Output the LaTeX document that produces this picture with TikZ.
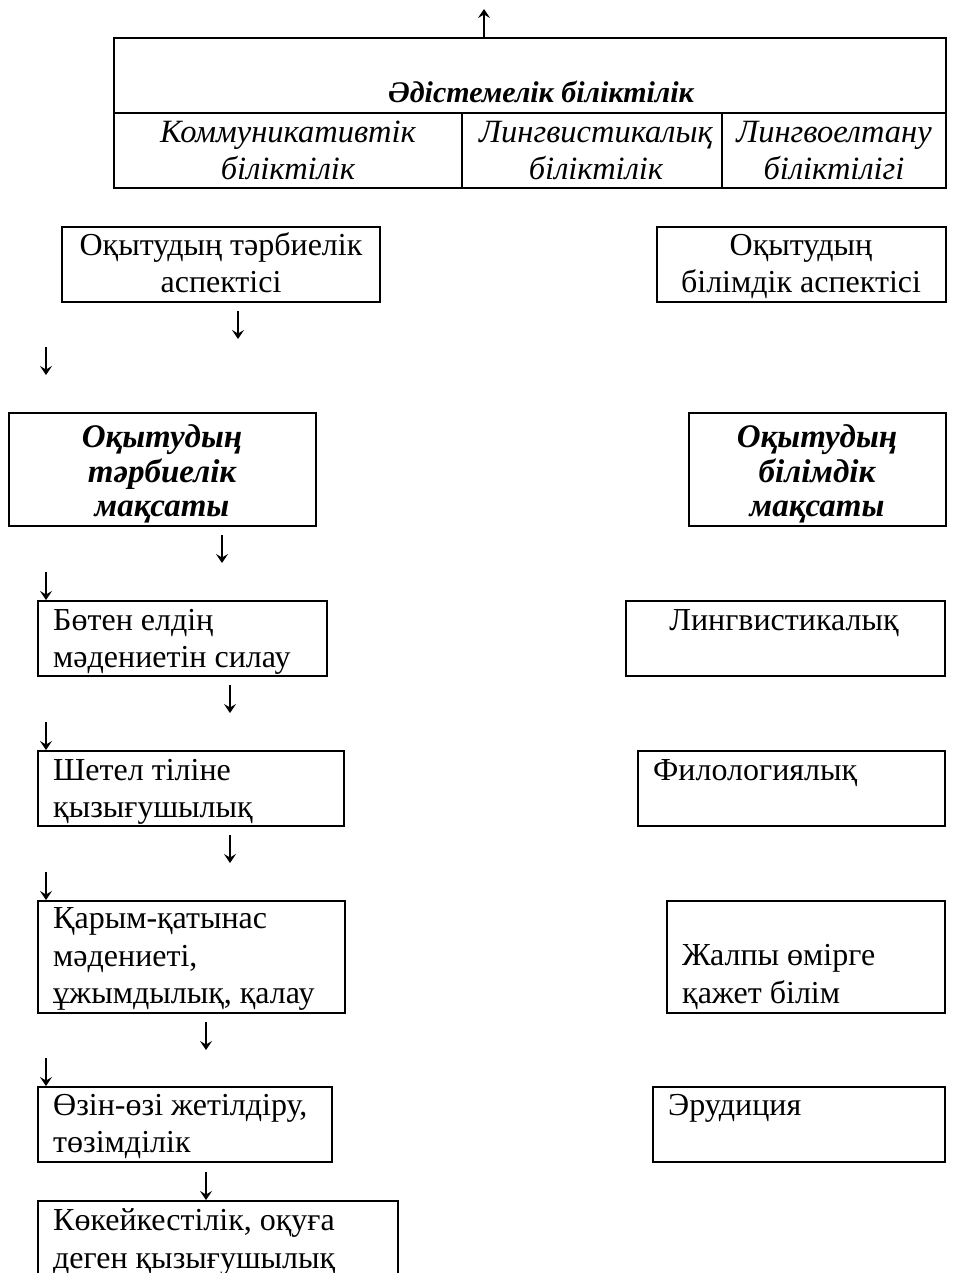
\documentclass[tikz,border=0pt]{standalone}
\usepackage{fontspec}
\setmainfont{Liberation Serif}
\usetikzlibrary{arrows.meta}
\begin{document}
\begin{tikzpicture}[x=1pt,y=-1pt,
  box/.style={draw=black,line width=1.6pt},
  txt/.style={inner sep=0pt,font=\fontsize{32}{37.5}\selectfont},
  ctxt/.style={txt,align=center},
  ltxt/.style={txt,align=left},
  ital/.style={txt,font=\fontsize{32.5}{37.5}\selectfont\itshape},
  bital/.style={txt,font=\fontsize{33}{37.5}\selectfont\bfseries\itshape},
  arr/.style={line width=1.3pt,-{Stealth[length=9pt,width=12pt,inset=3.5pt]}}]
\useasboundingbox (0,0) rectangle (955,1273);
% top block
\draw[line width=1.4pt] (114,38) rectangle (946,188);
\draw[line width=1.4pt] (114,113) -- (946,113);
\draw[line width=1.4pt] (462,113) -- (462,188);
\draw[line width=1.4pt] (722,113) -- (722,188);
\node[txt,anchor=base,font=\fontsize{30}{37.5}\selectfont\bfseries\itshape] (title) at (541,103) {Әдістемелік біліктілік};
\node[ital,anchor=base] (c1) at (288,143) {Коммуникативтік};
\node[ital,anchor=base] (c1b) at (288,180) {біліктілік};
\node[ital,anchor=base] (c2) at (596,143) {Лингвистикалық};
\node[ital,anchor=base] (c2b) at (596,180) {біліктілік};
\node[ital,anchor=base] (c3) at (834,143) {Лингвоелтану};
\node[ital,anchor=base] (c3b) at (834,180) {біліктілігі};
\coordinate (u0) at (484,37); \coordinate (u1) at (484,9);
\draw[arr] (u0) -- (u1);
% aspects
\draw[box] (62,227) rectangle (380,302);
\node[ctxt,anchor=base] (a1a) at (221,255) {Оқытудың тәрбиелік};
\node[ctxt,anchor=base] (a1b) at (221,292) {аспектісі};
\draw[box] (657,227) rectangle (946,302);
\node[ctxt,anchor=base] (b1a) at (801,255) {Оқытудың};
\node[ctxt,anchor=base] (b1b) at (801,292) {білімдік аспектісі};
\coordinate (d1s) at (238,311); \coordinate (d1e) at (238,339);
\draw[arr] (d1s) -- (d1e);
\coordinate (d2s) at (46,347); \coordinate (d2e) at (46,375);
\draw[arr] (d2s) -- (d2e);
% goals
\draw[box] (9,413) rectangle (316,526);
\node[bital,anchor=base] (a2a) at (162,447) {Оқытудың};
\node[bital,anchor=base] (a2b) at (162,482) {тәрбиелік};
\node[bital,anchor=base] (a2c) at (162,516) {мақсаты};
\draw[box] (689,413) rectangle (946,526);
\node[bital,anchor=base] (b2a) at (817,447) {Оқытудың};
\node[bital,anchor=base] (b2b) at (817,482) {білімдік};
\node[bital,anchor=base] (b2c) at (817,516) {мақсаты};
\coordinate (d3s) at (222,535); \coordinate (d3e) at (222,563);
\draw[arr] (d3s) -- (d3e);
\coordinate (d4s) at (46,572); \coordinate (d4e) at (46,600);
\draw[arr] (d4s) -- (d4e);
% row 3
\draw[box] (38,601) rectangle (327,676);
\node[ltxt,anchor=base west] (a3a) at (53,630) {Бөтен елдің};
\node[ltxt,anchor=base west] (a3b) at (53,667) {мәдениетін силау};
\draw[box] (626,601) rectangle (945,676);
\node[ctxt,anchor=base] (b3) at (784,630) {Лингвистикалық};
\coordinate (d5s) at (230,685); \coordinate (d5e) at (230,713);
\draw[arr] (d5s) -- (d5e);
\coordinate (d6s) at (46,722); \coordinate (d6e) at (46,750);
\draw[arr] (d6s) -- (d6e);
% row 4
\draw[box] (38,751) rectangle (344,826);
\node[ltxt,anchor=base west] (a4a) at (53,780) {Шетел тіліне};
\node[ltxt,anchor=base west] (a4b) at (53,817) {қызығушылық};
\draw[box] (638,751) rectangle (945,826);
\node[ltxt,anchor=base west] (b4) at (653,780) {Филологиялық};
\coordinate (d7s) at (230,835); \coordinate (d7e) at (230,863);
\draw[arr] (d7s) -- (d7e);
\coordinate (d8s) at (46,872); \coordinate (d8e) at (46,900);
\draw[arr] (d8s) -- (d8e);
% row 5
\draw[box] (38,901) rectangle (345,1013);
\node[ltxt,anchor=base west] (a5a) at (53,928) {Қарым-қатынас};
\node[ltxt,anchor=base west] (a5b) at (53,966) {мәдениеті,};
\node[ltxt,anchor=base west] (a5c) at (53,1003) {ұжымдылық, қалау};
\draw[box] (667,901) rectangle (945,1013);
\node[ltxt,anchor=base west] (b5a) at (682,965) {Жалпы өмірге};
\node[ltxt,anchor=base west] (b5b) at (682,1003) {қажет білім};
\coordinate (d9s) at (206,1022); \coordinate (d9e) at (206,1050);
\draw[arr] (d9s) -- (d9e);
\coordinate (d10s) at (46,1058); \coordinate (d10e) at (46,1086);
\draw[arr] (d10s) -- (d10e);
% row 6
\draw[box] (38,1087) rectangle (332,1162);
\node[ltxt,anchor=base west] (a6a) at (53,1115) {Өзін-өзі жетілдіру,};
\node[ltxt,anchor=base west] (a6b) at (53,1152) {төзімділік};
\draw[box] (653,1087) rectangle (945,1162);
\node[ltxt,anchor=base west] (b6) at (668,1115) {Эрудиция};
\coordinate (d11s) at (206,1172); \coordinate (d11e) at (206,1200);
\draw[arr] (d11s) -- (d11e);
% row 7 (cut off at bottom)
\draw[box] (38,1273) -- (38,1201) -- (398,1201) -- (398,1273);
\node[ltxt,anchor=base west] (a7a) at (53,1230) {Көкейкестілік, оқуға};
\node[ltxt,anchor=base west] (a7b) at (53,1268) {деген қызығушылық};
\end{tikzpicture}
\end{document}
